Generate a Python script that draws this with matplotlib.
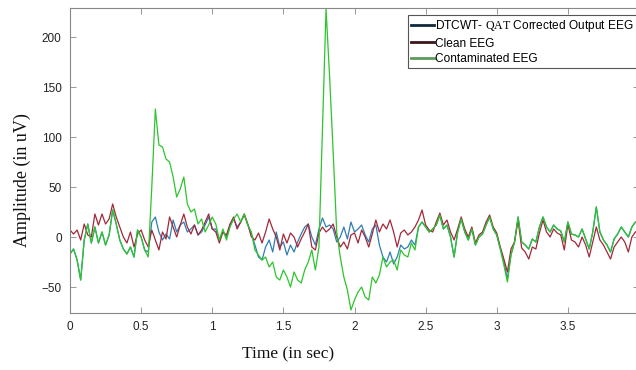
import matplotlib
matplotlib.use("Agg")
import matplotlib.pyplot as plt
import numpy as np
from matplotlib.lines import Line2D

plt.rcParams['mathtext.fontset'] = 'custom'
plt.rcParams['mathtext.rm'] = 'Liberation Serif'

# sample times (s), 0.025 s spacing
time_s = np.linspace(0, 4, 161)

clean_eeg = [
    7, 3, 7, -3, 13, 2, 0, 23,
    12, 23, 13, 18, 33, 20, 10, 0,
    -6, 5, -10, 3, 7, -3, -10, 7,
    -3, -13, 5, -2, 20, 10, 0, 12,
    23, 10, 3, 12, 2, 7, 15, 23,
    8, 5, -6, 5, 2, 13, 20, 8,
    15, 23, 13, 0, -3, 4, -6, 5,
    18, 8, 0, -13, 3, -6, 4, 0,
    -10, -2, 5, 13, -10, -13, 4, 10,
    5, 8, 13, 0, -10, -5, -12, 2,
    4, -6, 7, 0, -10, 3, 17, 5,
    13, 8, 17, 5, -10, 4, 7, 2,
    5, 10, 17, 27, 12, 7, 5, 15,
    24, 12, 17, 5, -3, 8, 20, 8,
    0, 10, -6, 2, 5, 15, 22, 10,
    4, -10, -22, -35, -12, -5, 17, -11,
    -15, -22, -10, -12, 4, 17, 5, 0,
    8, 4, 2, -13, 13, -3, -5, -10,
    0, -8, -20, -5, 10, -3, -8, -15,
    -22, -10, -5, 0, -5, -15, 0, 5,
    8,
]

contaminated_eeg = [
    -17, -12, -23, -43, -3, 13, -6, 10,
    -6, 5, -8, 2, 27, 13, -3, -12,
    -17, -10, -20, 7, 0, -13, -20, 50,
    128, 92, 90, 78, 75, 60, 40, 48,
    60, 33, 25, 28, 13, 18, 5, 12,
    20, 13, -3, 8, -3, 10, 18, 23,
    15, 23, 12, 5, -13, -18, -23, -20,
    -30, -25, -40, -43, -33, -40, -50, -35,
    -43, -46, -33, -25, -13, -33, -10, 110,
    228, 160, 85, 5, -20, -40, -53, -73,
    -63, -55, -50, -60, -63, -40, -46, -38,
    -20, -30, -25, -23, -33, -13, -18, -20,
    -6, -13, 10, 15, 10, 5, 8, 12,
    22, 8, 12, 0, -20, 5, 18, 5,
    -3, 8, -8, 0, 3, 12, 20, 8,
    2, -12, -28, -45, -18, -5, 20, -5,
    -8, -12, -2, -5, 10, 20, 10, 5,
    12, 8, 6, -5, 15, 3, 2, 0,
    8, -2, -12, 5, 30, 5, -3, -8,
    -15, -2, 3, 10, 5, 0, 10, 15,
    15,
]

corrected_eeg = [
    -17, -12, -23, -43, -3, 13, -6, 10,
    -6, 5, -8, 2, 27, 13, -3, -12,
    -17, -10, -20, 7, 0, -13, -15, 15,
    20, 5, -3, 3, -2, 17, 5, 12,
    15, 5, 8, 12, 2, 5, 12, 20,
    8, 8, -3, 5, 0, 12, 18, 10,
    15, 22, 12, 3, -8, -20, -23, -10,
    -3, -15, 5, -10, -5, -18, -8, -15,
    -5, 3, 10, 13, 0, -8, 8, 19,
    10, 12, 8, -5, 0, 10, -2, 15,
    5, 8, 12, 2, -5, 8, 12, -8,
    -20, -25, -15, -27, -20, -8, -12, -10,
    -3, -8, 10, 15, 10, 5, 8, 12,
    22, 8, 12, 0, -20, 5, 18, 5,
    -3, 8, -8, 0, 3, 12, 20, 8,
    2, -12, -25, -42, -18, -5, 20, -5,
    -8, -12, -2, -5, 10, 20, 10, 5,
    12, 8, 6, -5, 15, 3, 2, 0,
    8, -2, -12, 5, 30, 5, -3, -8,
    -15, -2, 3, 10, 5, 0, 10, 15,
    15,
]

x_ticks = [0, 0.5, 1, 1.5, 2, 2.5, 3, 3.5]
x_tick_labels = ['0', '0.5', '1', '1.5', '2', '2.5', '3', '3.5']
y_ticks = [-50, 0, 50, 100, 150, 200]
legend_labels = ['DTCWT- $\\mathrm{QAT}$ Corrected Output EEG', 'Clean EEG', 'Contaminated EEG']

fig = plt.figure(figsize=(6.36, 3.70), dpi=100)
ax = fig.add_axes([70 / 636, 57 / 370, 569 / 636, 305 / 370])

ax.plot(time_s, corrected_eeg, color='#2f7db5', lw=0.9)
ax.plot(time_s, clean_eeg, color='#a3283a', lw=0.9)
ax.plot(time_s, contaminated_eeg, color='#2cc52c', lw=0.9)

ax.set_xlim(0, 4)
ax.set_ylim(-76, 229)
ax.set_xticks(x_ticks)
ax.set_xticklabels(x_tick_labels)
ax.set_yticks(y_ticks)
ax.tick_params(direction='in', length=4, width=0.6, colors='#888888',
               labelcolor='#222222', labelsize=8.5, top=True, right=True, pad=6)
for s in ax.spines.values():
    s.set_color('#888888')
    s.set_linewidth(0.8)
for lbl in ax.get_xticklabels() + ax.get_yticklabels():
    lbl.set_family('Liberation Sans')

ax.set_xlabel('Time (in sec)', family='Liberation Serif', fontsize=12.5, color='#111111')
ax.xaxis.set_label_coords((288 - 70) / 569, -0.108)
ax.set_ylabel('Amplitude (in uV)', family='Liberation Serif', fontsize=13, color='#111111')
ax.yaxis.set_label_coords(-0.068, 0.436)

handles = [Line2D([], [], color='#13283a', lw=2),
           Line2D([], [], color='#3b1518', lw=2),
           Line2D([], [], color='#5d9a5d', lw=2)]
leg = fig.legend(handles, legend_labels, loc='upper left',
                 bbox_to_anchor=(408 / 636, 1 - 15 / 370),
                 prop={'family': 'Liberation Sans', 'size': 8.6},
                 frameon=True, fancybox=False, edgecolor='#555555', framealpha=1,
                 borderpad=0.25, handlelength=1.9, handletextpad=0.15,
                 labelspacing=0.3, borderaxespad=0)
leg.get_frame().set_linewidth(0.8)

fig.savefig('out.png', dpi=100)
